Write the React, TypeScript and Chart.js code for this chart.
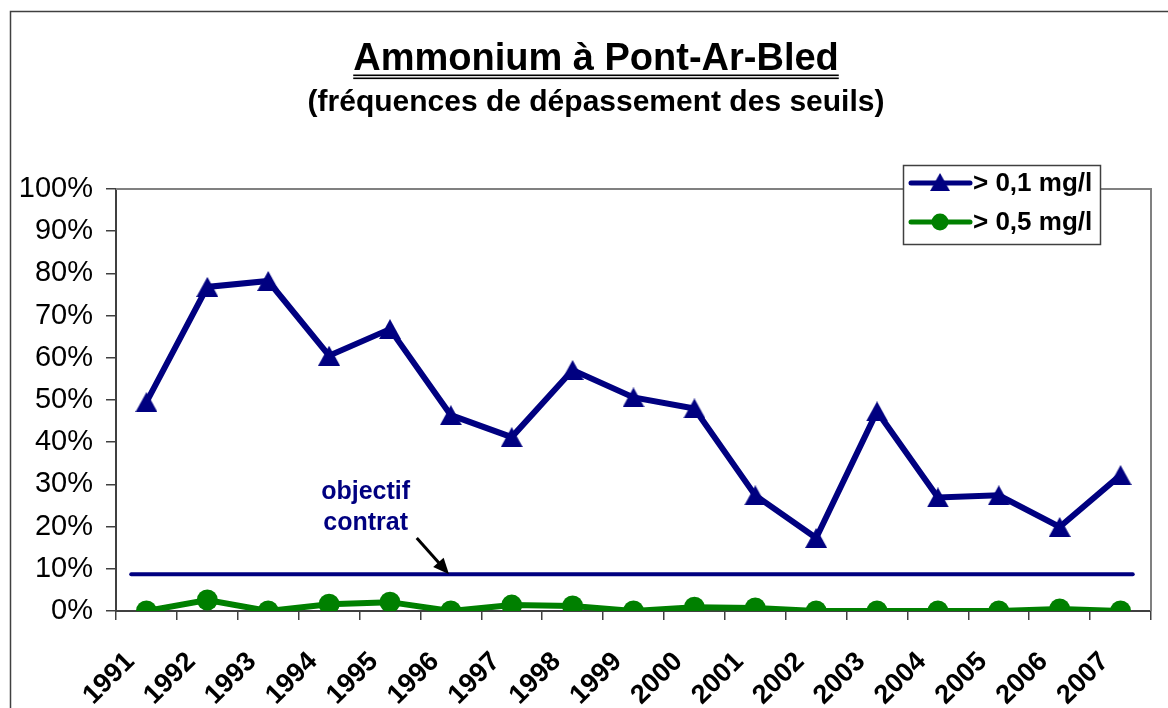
import React, { useEffect, useRef } from 'react';
import { Chart, registerables } from 'chart.js';

Chart.register(...registerables);

// ---- data ----
const years = ['1991', '1992', '1993', '1994', '1995', '1996', '1997', '1998', '1999', '2000', '2001', '2002', '2003', '2004', '2005', '2006', '2007'];
const above01 = [49.5, 76.8, 78.2, 60.5, 66.8, 46.4, 41.2, 57.1, 50.6, 48.0, 27.4, 17.3, 47.3, 26.9, 27.4, 19.9, 32.2];
const above05 = [0, 2.6, 0, 1.6, 2.1, 0, 1.4, 1.2, 0, 0.9, 0.7, 0, 0, 0, 0, 0.5, 0];
const seriesLabels = ['> 0,1 mg/l', '> 0,5 mg/l'];
const objective = 8.7;
const objectiveLabel = ['objectif', 'contrat'];
const titleText = 'Ammonium à Pont-Ar-Bled';
const subtitleText = '(fréquences de dépassement des seuils)';

const NAVY = '#000080';
const GREEN = '#008000';
const FONT = '"Liberation Sans", Arial, sans-serif';

function makeTriangle(w: number, h: number, color: string) {
  const c = document.createElement('canvas');
  c.width = w;
  c.height = h;
  const g = c.getContext('2d')!;
  g.fillStyle = color;
  g.beginPath();
  g.moveTo(w / 2, 0);
  g.lineTo(w, h);
  g.lineTo(0, h);
  g.closePath();
  g.fill();
  return c;
}

export default function App() {
  const ref = useRef<HTMLCanvasElement>(null);

  useEffect(() => {
    document.body.style.margin = '0';
    document.body.style.overflow = 'hidden';
    const tri = makeTriangle(22, 20, NAVY);

    const decor = {
      id: 'decor',
      beforeDraw(chart: any) {
        const ctx = chart.ctx;
        ctx.save();
        ctx.fillStyle = '#ffffff';
        ctx.fillRect(0, 0, chart.width, chart.height);
        // outer frame
        ctx.strokeStyle = '#404040';
        ctx.lineWidth = 1.5;
        ctx.strokeRect(10.5, 11.5, 1300, 900);
        // titles
        ctx.fillStyle = '#000';
        ctx.textAlign = 'center';
        ctx.textBaseline = 'alphabetic';
        ctx.font = `bold 38px ${FONT}`;
        const tx = 596;
        ctx.fillText(titleText, tx, 70);
        const tw = ctx.measureText(titleText).width;
        ctx.fillRect(tx - tw / 2, 74.5, tw, 1.6);
        ctx.fillRect(tx - tw / 2, 77.5, tw, 1.6);
        ctx.font = `bold 30px ${FONT}`;
        ctx.fillText(subtitleText, tx, 111);
        ctx.restore();
      },
      beforeDatasetsDraw(chart: any) {
        const { ctx, chartArea: a, scales } = chart;
        const x = scales.x, y = scales.y;
        ctx.save();
        // top & right plot border
        ctx.strokeStyle = '#808080';
        ctx.lineWidth = 2;
        ctx.beginPath();
        ctx.moveTo(a.left, a.top);
        ctx.lineTo(a.right, a.top);
        ctx.lineTo(a.right, a.bottom);
        ctx.stroke();
        // objective line
        const oy = y.getPixelForValue(objective);
        ctx.strokeStyle = NAVY;
        ctx.lineWidth = 4;
        ctx.lineCap = 'round';
        ctx.beginPath();
        ctx.moveTo(x.getPixelForValue(-0.25), oy);
        ctx.lineTo(x.getPixelForValue(16.2), oy);
        ctx.stroke();
        // annotation text
        ctx.fillStyle = NAVY;
        ctx.font = `bold 25px ${FONT}`;
        ctx.textAlign = 'center';
        ctx.textBaseline = 'middle';
        const lx = x.getPixelForValue(3.6);
        ctx.fillText(objectiveLabel[0], lx, y.getPixelForValue(28.2));
        ctx.fillText(objectiveLabel[1], lx, y.getPixelForValue(20.9));
        // arrow
        const ax0 = x.getPixelForValue(4.44), ay0 = y.getPixelForValue(17.3);
        const ax1 = x.getPixelForValue(4.97), ay1 = oy;
        const ang = Math.atan2(ay1 - ay0, ax1 - ax0);
        ctx.strokeStyle = '#000';
        ctx.fillStyle = '#000';
        ctx.lineWidth = 3;
        ctx.lineCap = 'butt';
        ctx.beginPath();
        ctx.moveTo(ax0, ay0);
        ctx.lineTo(ax1 - Math.cos(ang) * 10, ay1 - Math.sin(ang) * 10);
        ctx.stroke();
        const hl = 16, hw = 7;
        ctx.beginPath();
        ctx.moveTo(ax1, ay1);
        ctx.lineTo(ax1 - Math.cos(ang) * hl + Math.sin(ang) * hw, ay1 - Math.sin(ang) * hl - Math.cos(ang) * hw);
        ctx.lineTo(ax1 - Math.cos(ang) * hl - Math.sin(ang) * hw, ay1 - Math.sin(ang) * hl + Math.cos(ang) * hw);
        ctx.closePath();
        ctx.fill();
        ctx.restore();
      },
      afterDraw(chart: any) {
        const { ctx, chartArea: a } = chart;
        const bx = a.right - 248, by = a.top - 24, bw = 197, bh = 79;
        ctx.save();
        ctx.fillStyle = '#fff';
        ctx.fillRect(bx, by, bw, bh);
        ctx.strokeStyle = '#404040';
        ctx.lineWidth = 1.5;
        ctx.strokeRect(bx + 0.5, by + 0.5, bw, bh);
        const rows = [by + 18, by + 57];
        chart.data.datasets.forEach((ds: any, i: number) => {
          const ly = rows[i];
          ctx.strokeStyle = ds.borderColor;
          ctx.lineWidth = 5;
          ctx.lineCap = 'round';
          ctx.beginPath();
          ctx.moveTo(bx + 8, ly);
          ctx.lineTo(bx + 67, ly);
          ctx.stroke();
          const mx = bx + 37;
          if (i === 0) {
            ctx.drawImage(tri, mx - 10, ly - 10, 20, 18);
          } else {
            ctx.fillStyle = ds.backgroundColor;
            ctx.beginPath();
            ctx.arc(mx, ly, 8.5, 0, Math.PI * 2);
            ctx.fill();
          }
          ctx.fillStyle = '#000';
          ctx.font = `bold 26px ${FONT}`;
          ctx.textAlign = 'left';
          ctx.textBaseline = 'middle';
          ctx.fillText(ds.label, bx + 70, ly + 1);
        });
        ctx.restore();
      },
    };

    const chart = new Chart(ref.current!, {
      type: 'line',
      data: {
        labels: years,
        datasets: [
          {
            label: seriesLabels[0],
            data: above01,
            borderColor: NAVY,
            backgroundColor: NAVY,
            borderWidth: 6,
            pointStyle: tri as any,
            pointRadius: 11,
            tension: 0,
          },
          {
            label: seriesLabels[1],
            data: above05,
            borderColor: GREEN,
            backgroundColor: GREEN,
            borderWidth: 6,
            pointStyle: 'circle',
            pointRadius: 10.5,
            pointBorderWidth: 0,
            tension: 0,
          },
        ],
      },
      options: {
        responsive: false,
        animation: false,
        devicePixelRatio: 1,
        layout: { padding: { top: 189, right: 13, left: 0, bottom: 0 } },
        plugins: {
          legend: { display: false },
          title: { display: false },
          tooltip: { enabled: false },
        },
        scales: {
          x: {
            type: 'category',
            offset: true,
            grid: {
              display: true,
              drawOnChartArea: false,
              drawTicks: true,
              tickLength: 9,
              offset: true,
              color: '#404040',
              lineWidth: 1.5,
            },
            border: { display: true, color: '#404040', width: 2 },
            ticks: {
              autoSkip: false,
              maxRotation: 45,
              minRotation: 45,
              labelOffset: -16,
              padding: 26,
              color: '#000',
              font: { family: FONT, size: 27, weight: 'bold' },
            },
            afterFit: (s: any) => {
              s.height = 97;
              s.paddingLeft = 0;
              s.paddingRight = 0;
            },
          },
          y: {
            min: 0,
            max: 100,
            grid: {
              display: true,
              drawOnChartArea: false,
              drawTicks: true,
              tickLength: 10,
              color: '#404040',
              lineWidth: 1.5,
            },
            border: { display: true, color: '#404040', width: 2 },
            ticks: {
              stepSize: 10,
              padding: 13,
              color: '#000',
              font: { family: FONT, size: 29 },
              callback: (v: any) => `${v}%`,
            },
            afterFit: (s: any) => {
              s.width = 116;
              s.paddingTop = 0;
              s.paddingBottom = 0;
            },
          },
        },
      },
      plugins: [decor],
    });
    return () => chart.destroy();
  }, []);

  return (
    <div style={{ width: 1168, height: 708, position: 'relative', overflow: 'hidden' }}>
      <canvas ref={ref} width={1168} height={708} style={{ display: 'block' }} />
    </div>
  );
}
